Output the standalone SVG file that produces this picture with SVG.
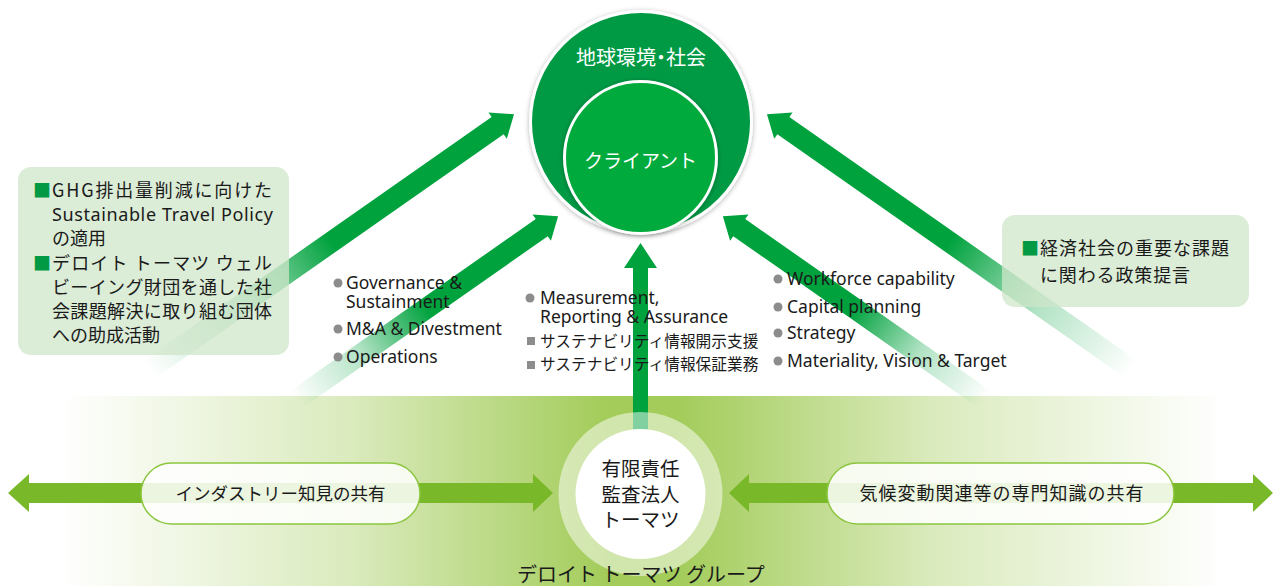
<svg xmlns="http://www.w3.org/2000/svg" width="1275" height="586" viewBox="0 0 1275 586">
<defs>
<style>
text{font-family:"Noto Sans CJK JP","Noto Sans",sans-serif;fill:#1a1a1a}
.lat{font-family:"Noto Sans","Noto Sans CJK JP",sans-serif}
.w{fill:#ffffff}
.box{fill:#cfe5ca;fill-opacity:0.75}
.sq{fill:#009944}
.dot{fill:#8c8c8c}
.gsq{fill:#8c8c8c}
.li{font-size:17.5px}
.lj{font-size:15.7px}
.bx{font-size:18px}
.pill{fill:#ffffff;fill-opacity:0.85;stroke:#8cc63f;stroke-width:1.5}
.dbl{fill:#78b829}
.arr{fill:url(#fade)}
.palt{font-feature-settings:"palt"}
</style>
<linearGradient id="fade" x1="0" y1="0" x2="1" y2="0">
<stop offset="0" stop-color="#00a23e" stop-opacity="0"/>
<stop offset="0.25" stop-color="#00a23e" stop-opacity="0.3"/>
<stop offset="0.5" stop-color="#00a23e" stop-opacity="1"/>
<stop offset="1" stop-color="#00a23e" stop-opacity="1"/>
</linearGradient>
<linearGradient id="band" gradientUnits="userSpaceOnUse" x1="60" y1="0" x2="1225" y2="0">
<stop offset="0" stop-color="#a3cc5a" stop-opacity="0"/>
<stop offset="0.25" stop-color="#a3cc5a" stop-opacity="0.4"/>
<stop offset="0.47" stop-color="#a3cc5a" stop-opacity="1"/>
<stop offset="0.53" stop-color="#a3cc5a" stop-opacity="1"/>
<stop offset="0.75" stop-color="#a3cc5a" stop-opacity="0.4"/>
<stop offset="1" stop-color="#a3cc5a" stop-opacity="0"/>
</linearGradient>
<filter id="sh" x="-20%" y="-20%" width="140%" height="140%">
<feDropShadow dx="0" dy="1" stdDeviation="2.5" flood-color="#000000" flood-opacity="0.3"/>
</filter>
</defs>

<rect id="band-bg" x="0" y="396" width="1275" height="190" fill="url(#band)"/>

<g id="connectors">
<path class="dbl" d="M8,493 L29,474 L29,483 L533,483 L533,474 L553,493 L533,512 L533,503 L29,503 L29,512 Z"/>
<path class="dbl" d="M729,493 L749,474 L749,483 L1253,483 L1253,474 L1273,493 L1253,512 L1253,503 L749,503 L749,512 Z"/>
<path fill="#00a23e" d="M633,430 L633,268 L624,268 L640.5,243 L657,268 L648,268 L648,430 Z"/>
<g transform="translate(149.5,369.4) rotate(-35)"><path class="arr" d="M0,-10.5 L425,-10.5 L425,-16 L445,0 L425,16 L425,10.5 L0,10.5 Z"/></g>
<g transform="translate(296,399.7) rotate(-35)"><path class="arr" d="M0,-10.5 L300,-10.5 L300,-16 L320,0 L300,16 L300,10.5 L0,10.5 Z"/></g>
<g transform="translate(985,399.7) rotate(-145)"><path class="arr" d="M0,-10.5 L300,-10.5 L300,-16 L320,0 L300,16 L300,10.5 L0,10.5 Z"/></g>
<g transform="translate(1131.5,369.4) rotate(-145)"><path class="arr" d="M0,-10.5 L425,-10.5 L425,-16 L445,0 L425,16 L425,10.5 L0,10.5 Z"/></g>
</g>

<g id="node-earth">
<circle cx="641" cy="122" r="110.5" fill="#009a44" stroke="#ffffff" stroke-width="3" filter="url(#sh)"/>
<text class="w palt" x="641" y="65" font-size="20" text-anchor="middle">地球環境・社会</text>
</g>
<g id="node-client">
<circle cx="640.5" cy="157.5" r="76" fill="#00aa3c" stroke="#ffffff" stroke-width="3" filter="url(#sh)"/>
<text class="w" x="640.5" y="168" font-size="19" text-anchor="middle">クライアント</text>
</g>

<g id="node-left-box">
<rect class="box" x="18" y="167" width="271" height="188" rx="13"/>
<text class="bx" x="33" y="197"><tspan class="sq">■</tspan></text>
<text class="bx" x="52" y="197" textLength="220" lengthAdjust="spacing">GHG排出量削減に向けた</text>
<text class="bx lat" x="52" y="221" font-size="16.5" textLength="221" lengthAdjust="spacing">Sustainable Travel Policy</text>
<text class="bx" x="52" y="245">の適用</text>
<text class="bx" x="33" y="270"><tspan class="sq">■</tspan></text>
<text class="bx" x="52" y="270" textLength="220" lengthAdjust="spacing">デロイト トーマツ ウェル</text>
<text class="bx" x="52" y="294" textLength="220" lengthAdjust="spacing">ビーイング財団を通した社</text>
<text class="bx" x="52" y="318" textLength="220" lengthAdjust="spacing">会課題解決に取り組む団体</text>
<text class="bx" x="52" y="342">への助成活動</text>
</g>

<g id="node-right-box">
<rect class="box" x="1002" y="215" width="247" height="92" rx="13"/>
<text class="bx" x="1021" y="255"><tspan class="sq">■</tspan></text>
<text class="bx" x="1040" y="255" textLength="189" lengthAdjust="spacing">経済社会の重要な課題</text>
<text class="bx" x="1040" y="282" textLength="150" lengthAdjust="spacing">に関わる政策提言</text>
</g>

<g id="node-list-left">
<circle class="dot" cx="338" cy="283" r="4.5"/>
<text class="li lat" x="346" y="289">Governance &amp;</text>
<text class="li lat" x="346" y="308">Sustainment</text>
<circle class="dot" cx="338" cy="329" r="4.5"/>
<text class="li lat" x="346" y="335">M&amp;A &amp; Divestment</text>
<circle class="dot" cx="338" cy="357" r="4.5"/>
<text class="li lat" x="346" y="363">Operations</text>
</g>

<g id="node-list-center">
<circle class="dot" cx="530" cy="298" r="4.5"/>
<text class="li lat" x="540" y="304">Measurement,</text>
<text class="li lat" x="540" y="323">Reporting &amp; Assurance</text>
<rect class="gsq" x="527" y="337" width="8" height="8"/>
<text class="lj" x="540" y="347">サステナビリティ情報開示支援</text>
<rect class="gsq" x="527" y="361" width="8" height="8"/>
<text class="lj" x="540" y="370">サステナビリティ情報保証業務</text>
</g>

<g id="node-list-right">
<circle class="dot" cx="778" cy="279" r="4.5"/>
<text class="li lat" x="787" y="285">Workforce capability</text>
<circle class="dot" cx="778" cy="307" r="4.5"/>
<text class="li lat" x="787" y="313">Capital planning</text>
<circle class="dot" cx="778" cy="333" r="4.5"/>
<text class="li lat" x="787" y="339">Strategy</text>
<circle class="dot" cx="778" cy="361" r="4.5"/>
<text class="li lat" x="787" y="367">Materiality, Vision &amp; Target</text>
</g>

<g id="node-pill-industry">
<rect class="pill" x="141" y="463" width="279" height="61" rx="30.5"/>
<text x="280.5" y="499.5" font-size="17.5" text-anchor="middle">インダストリー知見の共有</text>
</g>
<g id="node-pill-climate">
<rect class="pill" x="827" y="463" width="347" height="61" rx="30.5"/>
<text x="1002" y="500" font-size="18" letter-spacing="1" text-anchor="middle">気候変動関連等の専門知識の共有</text>
</g>

<g id="node-tohmatsu">
<circle cx="640.5" cy="494" r="82" fill="#ffffff" fill-opacity="0.5"/>
<circle cx="640.5" cy="494" r="65" fill="#ffffff"/>
<text x="640.5" y="476" font-size="19.5" text-anchor="middle">有限責任</text>
<text x="640.5" y="502" font-size="19.5" text-anchor="middle">監査法人</text>
<text x="640.5" y="527" font-size="19.5" text-anchor="middle">トーマツ</text>
</g>

<g id="node-group-label">
<text x="641" y="582" font-size="20" text-anchor="middle">デロイト トーマツ グループ</text>
</g>
</svg>
